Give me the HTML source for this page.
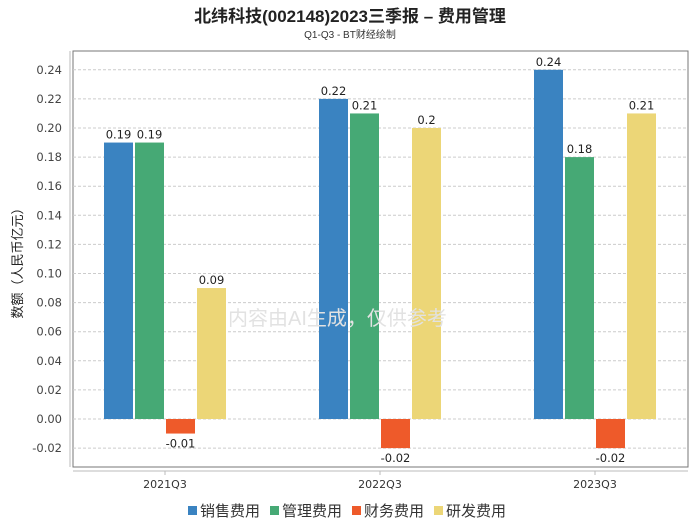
<!DOCTYPE html>
<html><head><meta charset="utf-8"><style>
body{margin:0;background:#fff;width:700px;height:524px;overflow:hidden;font-family:"Liberation Sans","Noto Sans CJK SC",sans-serif}
</style></head><body>
<svg width="700" height="524" xmlns="http://www.w3.org/2000/svg" font-family="Liberation Sans, Noto Sans CJK SC, sans-serif">
<text x="350" y="22" text-anchor="middle" font-size="17" font-weight="bold" fill="#222">北纬科技(002148)2023三季报 – 费用管理</text>
<text x="350" y="38" text-anchor="middle" font-size="10" fill="#333">Q1-Q3 - BT财经绘制</text>
<rect x="73" y="51" width="615" height="416" fill="none" stroke="#777"/>
<line x1="70" y1="51" x2="70" y2="467" stroke="#bbb"/>
<line x1="73" y1="471" x2="688" y2="471" stroke="#bbb"/>
<g id="grid"></g><g id="bars"></g>
<text x="228" y="325" font-size="20" fill="#e2e2e2">内容由AI生成，仅供参考</text>
<text x="22" y="260" font-size="13" fill="#222" transform="rotate(-90 22 260)" text-anchor="middle">数额（人民币亿元）</text>
<g id="legend" font-size="15" fill="#333"></g>
</svg>
<script>
const categories=["2021Q3","2022Q3","2023Q3"];
const seriesNames=["销售费用","管理费用","财务费用","研发费用"];
const colors=["#3a83c1","#46a975","#ee5a2a","#ecd677"];
const sales=[0.19,0.22,0.24];
const admin=[0.19,0.21,0.18];
const finance=[-0.01,-0.02,-0.02];
const rnd=[0.09,0.2,0.21];
const labels=[["0.19","0.22","0.24"],["0.19","0.21","0.18"],["-0.01","-0.02","-0.02"],["0.09","0.2","0.21"]];
const yTicks=[-0.02,0,0.02,0.04,0.06,0.08,0.10,0.12,0.14,0.16,0.18,0.20,0.22,0.24];
const series=[sales,admin,finance,rnd];
const NS="http://www.w3.org/2000/svg";
const NUMFONT="DejaVu Sans, Liberation Sans, sans-serif";
const y=v=>419-v/0.02*29.1;
const xc=i=>165+215*i;
function mk(t,a,p){const e=document.createElementNS(NS,t);for(const k in a)e.setAttribute(k,a[k]);p.appendChild(e);return e;}
const g=document.getElementById('grid');
yTicks.forEach(v=>{
 const l=mk('line',{x1:73,x2:688,y1:y(v),y2:y(v),stroke:'#ccc','stroke-dasharray':'3,2'},g);
 
 
 const t=mk('text',{x:62,y:y(v)+4,'text-anchor':'end','font-size':11.5,fill:'#444','font-family':NUMFONT},g);
 t.textContent=v.toFixed(2);
 
 
});
const b=document.getElementById('bars');
categories.forEach((c,i)=>{
 const t=mk('text',{x:xc(i),y:488,'text-anchor':'middle','font-size':11,fill:'#333','font-family':NUMFONT},b);
 t.textContent=c;
 
 
 mk('line',{x1:xc(i),x2:xc(i),y1:471,y2:475,stroke:'#bbb'},b);
 series.forEach((s,j)=>{
  const v=s[i],x0=xc(i)-61+31*j;
  const top=Math.min(y(v),y(0)),h=Math.abs(y(v)-y(0));
  const r=mk('rect',{x:x0,y:top,width:29,height:h,fill:colors[j]},b);
  
  
  const lt=mk('text',{x:x0+14.5,y:v>=0?y(v)-4:y(v)+14,'text-anchor':'middle','font-size':11.5,fill:'#222','font-family':NUMFONT},b);
  lt.textContent=labels[j][i];
  
  
 });
});
const lg=document.getElementById('legend');
seriesNames.forEach((n,j)=>{
 const x=188+82*j;
 const r=mk('rect',{x:x,y:506,width:9,height:9,fill:colors[j]},lg);
 
 
 const t=mk('text',{x:x+12,y:516},lg);
 t.textContent=n;
 
 
});
</script>
</body></html>
